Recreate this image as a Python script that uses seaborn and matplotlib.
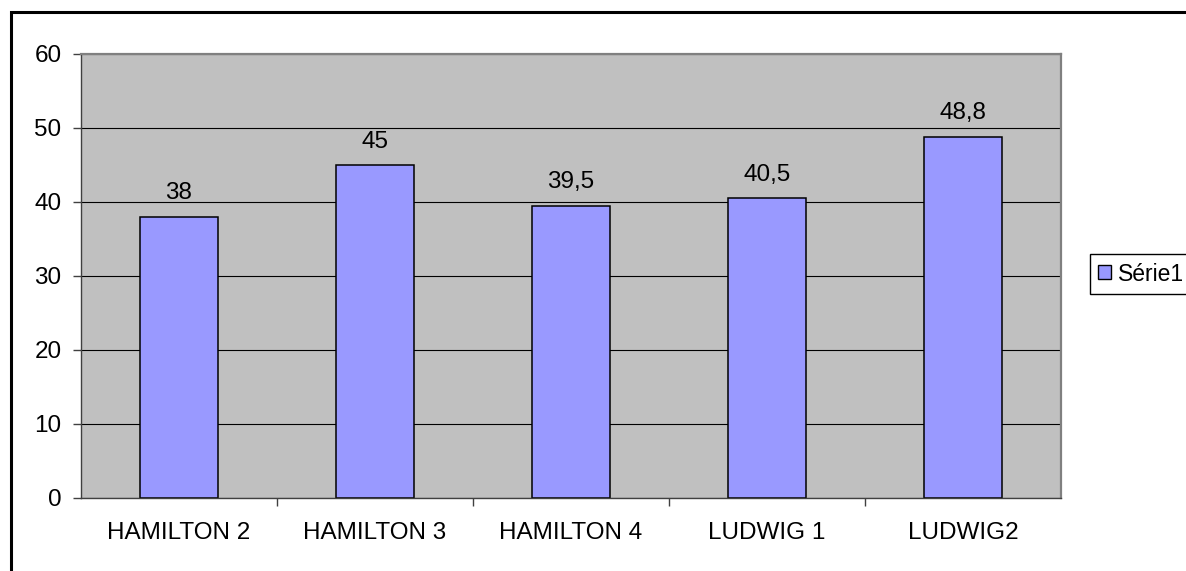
import matplotlib
matplotlib.use("Agg")
import matplotlib.pyplot as plt
import matplotlib.patches as mpatches
import pandas as pd
import seaborn as sns

# Data
categories = ["HAMILTON 2", "HAMILTON 3", "HAMILTON 4", "LUDWIG 1", "LUDWIG2"]
values = [38, 45, 39.5, 40.5, 48.8]
series_name = "Série1"
y_ticks = [0, 10, 20, 30, 40, 50, 60]

BAR_COLOR = "#9999FF"
PLOT_BG = "#C0C0C0"

sns.set_style("white")
plt.rcParams["font.family"] = ["Liberation Sans", "DejaVu Sans"]
plt.rcParams["font.size"] = 17.5
plt.rcParams["text.color"] = "black"
plt.rcParams["xtick.labelcolor"] = "black"
plt.rcParams["ytick.labelcolor"] = "black"

df = pd.DataFrame({"category": categories, "value": values})

fig = plt.figure(figsize=(11.86, 5.71), dpi=100)
ax = fig.add_axes([81 / 1186, 1 - 498 / 571, (1061 - 81) / 1186, (498 - 54) / 571])

sns.barplot(data=df, x="category", y="value", color=BAR_COLOR, width=0.4,
            edgecolor="black", linewidth=1.1, saturation=1, label=series_name, ax=ax)

ax.set_facecolor(PLOT_BG)
ax.set_ylim(0, 60)
ax.set_xlim(-0.5, len(categories) - 0.5)
ax.set_yticks(y_ticks)
ax.set_xlabel("")
ax.set_ylabel("")

# horizontal gridlines
ax.yaxis.grid(True, color="black", linewidth=0.8)
ax.set_axisbelow(True)

# plot area border
for side in ["top", "right"]:
    ax.spines[side].set_color("#808080")
    ax.spines[side].set_linewidth(1.6)
for side in ["left", "bottom"]:
    ax.spines[side].set_color("#404040")
    ax.spines[side].set_linewidth(1.0)

# ticks: y outside, x labels centered with tick marks between categories
ax.tick_params(axis="y", direction="out", length=6, width=1, color="#404040", pad=8, left=True)
ax.tick_params(axis="x", which="major", length=0, pad=17)
ax.set_xticks([i + 0.5 for i in range(len(categories) - 1)], minor=True)
ax.tick_params(axis="x", which="minor", direction="out", length=6, width=1, color="#404040", bottom=True)

# value labels with decimal comma
labels = [f"{v:g}".replace(".", ",") for v in values]
ax.bar_label(ax.containers[0], labels=labels, padding=9, fontsize=17.5, color="black")

# legend
handle = mpatches.Patch(facecolor=BAR_COLOR, edgecolor="black", linewidth=1)
leg = fig.legend([handle], [series_name], loc="center left",
                 bbox_to_anchor=(1079 / 1186, 1 - 274 / 571), fancybox=False,
                 edgecolor="black", framealpha=1, handlelength=0.55, handleheight=0.55,
                 handletextpad=0.3, borderpad=0.35, fontsize=16.5)
leg.get_frame().set_linewidth(1.0)
if ax.get_legend() is not None:
    ax.get_legend().remove()

# outer chart border (extends past right/bottom edge)
fig.patches.append(mpatches.Rectangle((11 / 1186, -0.2), 1.5, 1.2 - 12 / 571, fill=False,
                                      edgecolor="black", linewidth=2.2,
                                      transform=fig.transFigure, figure=fig))

fig.savefig("out.png", dpi=100)
